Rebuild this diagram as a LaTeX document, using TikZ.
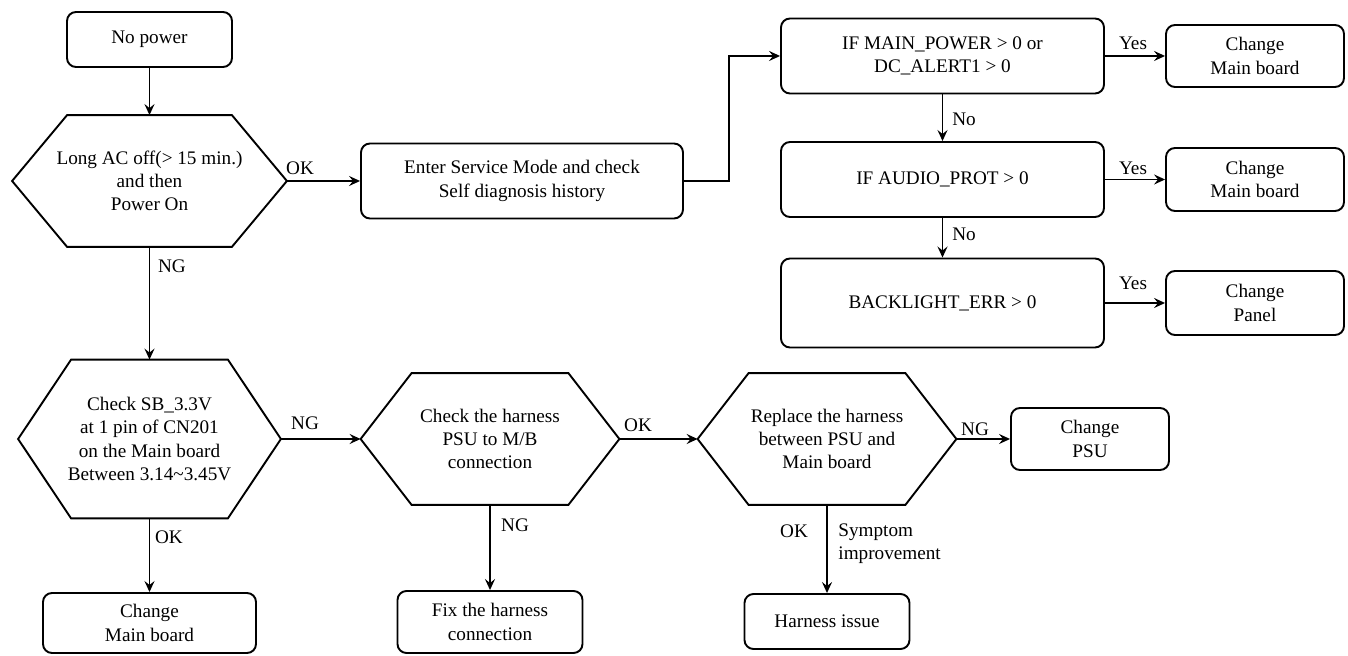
\documentclass[tikz,border=0pt]{standalone}
\usepackage{fontspec}
\setmainfont{Liberation Serif}
\newfontfamily\flowfont{Liberation Serif}
\usetikzlibrary{arrows.meta}

\begin{document}
\begin{tikzpicture}[
    x=0.5pt,
    y=-0.5pt,
    font=\flowfont\fontsize{9.6}{11.6}\selectfont,
    box/.style={
        rectangle,
        draw,
        rounded corners=4.5pt,
        line width=0.95pt,
        align=center,
        inner sep=0pt,
    },
    decision/.style={
        rectangle,
        align=center,
        inner sep=0pt,
    },
    flow/.style={
        line width=0.85pt,
        -{Stealth[length=5.5pt, width=5pt, inset=2pt]},
    },
    tag/.style={
        inner sep=0pt,
        align=left,
    }
]
    \useasboundingbox (0,0) rectangle (1348,656);

    % Power check
    \node[box, minimum width=82.5pt, minimum height=27.5pt] (nopower) at (149.5,39.5) {No power};
    \node[decision, minimum width=137pt, minimum height=65.5pt] (acoff) at (149.5,181) {Long AC off(> 15 min.)\\and then\\Power On};
    \node[box, minimum width=161pt, minimum height=37.5pt] (enter) at (522,181) {Enter Service Mode and check\\Self diagnosis history};

    % Self diagnosis
    \node[box, minimum width=161.5pt, minimum height=37.5pt] (ifmain) at (942.5,56) {IF MAIN\_POWER > 0 or\\DC\_ALERT1 > 0};
    \node[box, minimum width=161.5pt, minimum height=37.5pt] (ifaudio) at (942.5,179.5) {IF AUDIO\_PROT > 0};
    \node[box, minimum width=161.5pt, minimum height=44.5pt] (backlight) at (942.5,303) {BACKLIGHT\_ERR > 0};
    \node[box, minimum width=89pt, minimum height=31pt] (chgmain) at (1255,56) {Change\\Main board};
    \node[box, minimum width=89pt, minimum height=31.5pt] (chgaudio) at (1255,179.5) {Change\\Main board};
    \node[box, minimum width=89pt, minimum height=32pt] (chgpanel) at (1255,303) {Change\\Panel};

    % Standby voltage
    \node[decision, minimum width=131pt, minimum height=79pt] (sbcheck) at (149.5,439) {Check SB\_3.3V\\at 1 pin of CN201\\on the Main board\\Between 3.14\textasciitilde3.45V};
    \node[box, minimum width=106.5pt, minimum height=30pt] (chgmb) at (149.5,623) {Change\\Main board};
    \node[decision, minimum width=129pt, minimum height=65.5pt] (harness) at (490,439) {Check the harness\\PSU to M/B\\connection};
    \node[box, minimum width=92.5pt, minimum height=31pt] (fix) at (490,622) {Fix the harness\\connection};
    \node[decision, minimum width=129pt, minimum height=65.5pt] (replace) at (827,439) {Replace the harness\\between PSU and\\Main board};
    \node[box, minimum width=79pt, minimum height=31pt] (psu) at (1090,439) {Change\\PSU};
    \node[box, minimum width=82.5pt, minimum height=27.5pt] (issue) at (827,621.5) {Harness issue};

    % Hexagon outlines
    \foreach \h/\c in {acoff/27.5pt, sbcheck/26.5pt, harness/25.5pt, replace/25.5pt}
        \draw[line width=0.95pt] (\h.west) -- ([xshift=\c]\h.north west) -- ([xshift=-\c]\h.north east)
            -- (\h.east) -- ([xshift=-\c]\h.south east) -- ([xshift=\c]\h.south west) -- cycle;

    % Connectors
    \draw[flow] (nopower) -- (acoff);
    \draw[flow] (acoff.east) -- (enter.west);
    \draw[flow] (enter.east) -- ++(45,0) |- (ifmain.west);
    \draw[flow] (ifmain) -- (ifaudio);
    \draw[flow] (ifaudio) -- (backlight);
    \draw[flow] (ifmain) -- (chgmain);
    \draw[flow] (ifaudio) -- (chgaudio);
    \draw[flow] (backlight) -- (chgpanel);
    \draw[flow] (acoff.south) -- (sbcheck.north);
    \draw[flow] (sbcheck.south) -- (chgmb.north);
    \draw[flow] (sbcheck.east) -- (harness.west);
    \draw[flow] (harness.south) -- (fix.north);
    \draw[flow] (harness.east) -- (replace.west);
    \draw[flow] (replace.east) -- (psu.west);
    \draw[flow] (replace.south) -- (issue.north);

    % Connector labels
    \node[tag] (okac) at (300,168) {OK};
    \node[tag] (ngac) at (172,266) {NG};
    \node[tag] (nomain) at (964,119) {No};
    \node[tag] (noaudio) at (964,234) {No};
    \node[tag] (yesmain) at (1133,43) {Yes};
    \node[tag] (yesaudio) at (1133,168) {Yes};
    \node[tag] (yespanel) at (1133,283) {Yes};
    \node[tag] (ngsb) at (305,423) {NG};
    \node[tag] (oksb) at (169,537) {OK};
    \node[tag] (okharness) at (638,425) {OK};
    \node[tag] (ngharness) at (515,525) {NG};
    \node[tag] (ngreplace) at (975,429) {NG};
    \node[tag] (okreplace) at (794,531) {OK};
    \node[tag, anchor=west] (symptom) at (838,543.5) {Symptom\\improvement};
\end{tikzpicture}
\end{document}
